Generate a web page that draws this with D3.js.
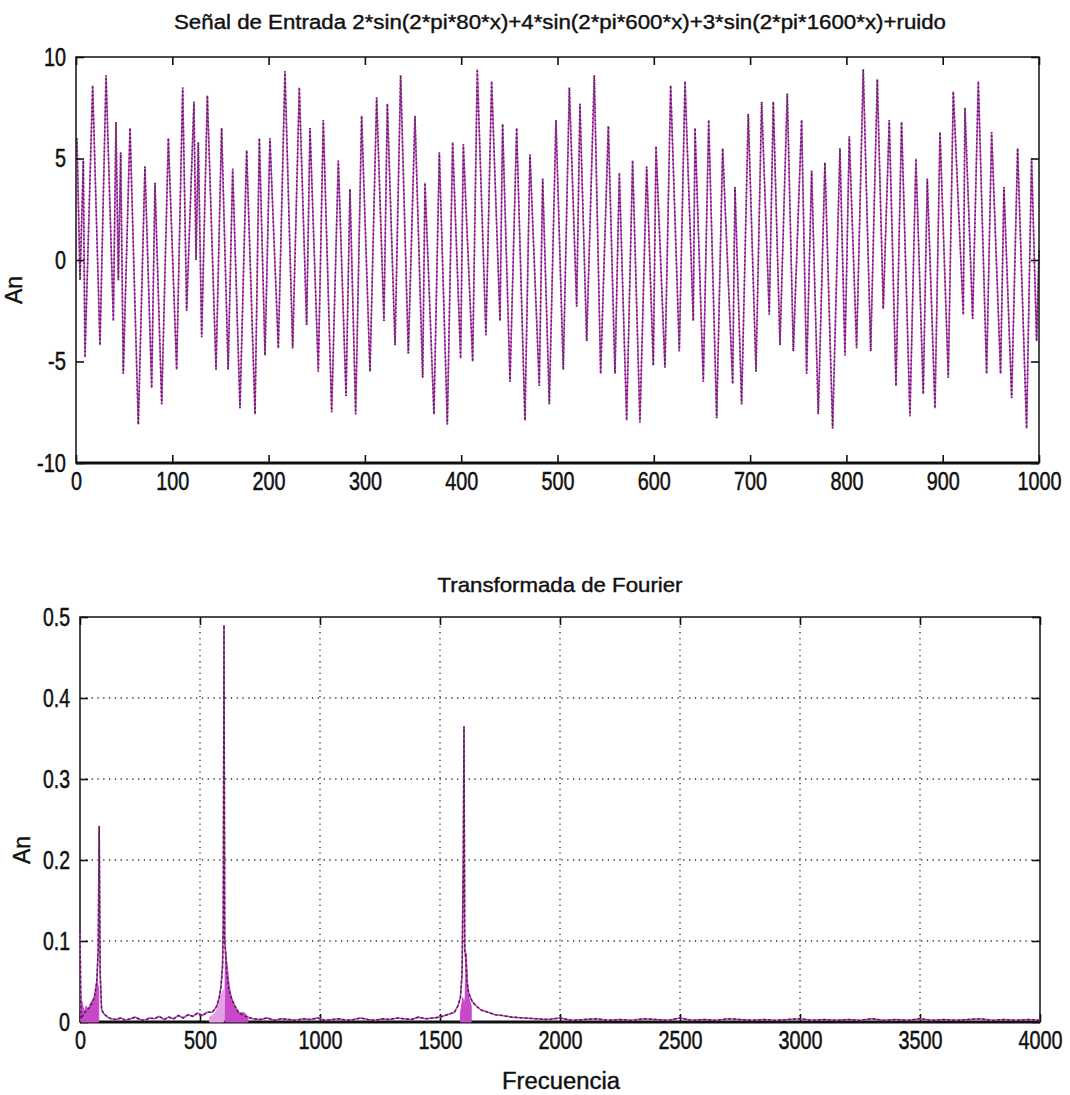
<!DOCTYPE html>
<html>
<head>
<meta charset="utf-8">
<script src="https://cdn.jsdelivr.net/npm/d3@7"></script>
<style>
body { margin: 0; background: #fff; }
text { font-family: "Liberation Sans", Arial, sans-serif; fill: #111; }
</style>
</head>
<body>
<svg id="fig" width="1070" height="1095"></svg>
<script>
/*
----------------------------------------------------------
                   data
----------------------------------------------------------
*/
var signalTitle = "Señal de Entrada 2*sin(2*pi*80*x)+4*sin(2*pi*600*x)+3*sin(2*pi*1600*x)+ruido";
var spectrumTitle = "Transformada de Fourier";

var signalTicksX = [0, 100, 200, 300, 400, 500, 600, 700, 800, 900, 1000];
var signalTicksY = [-10, -5, 0, 5, 10];
var spectrumTicksX = [0, 500, 1000, 1500, 2000, 2500, 3000, 3500, 4000];
var spectrumTicksY = [0, 0.1, 0.2, 0.3, 0.4, 0.5];

// sample position of each peak / trough of the input signal
var sigX = [1, 4.2, 7.6, 9.3, 17.3, 24.9, 31.2, 38.8, 41.5, 44, 46.4, 49.1, 56.1, 64.7, 71.6, 78.6, 82, 89, 95.9, 104.5,
    110.8, 114.9, 122.5, 124.6, 127, 130.5, 136.4, 145.4, 151.2, 158, 162.7, 170.3, 177.2, 185.9, 190.4, 196.3, 201.4, 210.1, 217, 225,
    231.9, 239.5, 243, 251.6,
    256.8, 265.5, 272.4, 280.4, 284.5, 290.4, 296.6, 305.3, 312.2, 319.8, 323.3, 331.3, 337.1, 345.1, 352, 360, 362.4, 371.7, 377.3, 385.6,
    391.1, 399.4, 402.2, 411.9, 416.7, 425.7, 431.6, 440.3, 443, 450.7, 457.6, 466.2, 471.4, 481.1, 484.6, 491.5, 498.4,
    506, 512.3, 519.9, 523.3, 530.3, 538.2, 544.8, 552.8, 559.7, 564.2, 571.8, 578, 585.6, 592.6, 599.5, 602.3, 611.6, 617.5, 626.5, 632.4,
    641, 642.8, 651.4, 657, 665.3, 671.5, 681.9, 684.3, 691.2, 698.1, 706.1, 712, 719.9, 724.1, 731, 738.6,
    744.9, 753.5, 758.7, 763.9, 770.8, 777.7, 785.7, 793.3, 798.5, 803, 810.6, 817.5, 825.2, 832.1, 838.3, 844.5, 851.5, 857.3, 866, 872.2,
    879.8, 884, 892, 897.2, 905.8, 911, 921.4, 923.1, 931.1, 937, 945.6, 950.8, 960.1, 963.6, 971.6, 977.8, 987.1, 992.3, 997.5, 1000];
var sigY = [6.0, -1.0, 4.9, -4.8, 8.6, -4.2, 9.1, -3.0, 6.8, -1.0, 5.3, -5.6, 6.5, -8.1, 4.6, -6.3, 3.8, -7.1, 6.0, -5.4,
    8.5, -2.5, 7.8, 0.0, 5.8, -3.8, 8.1, -5.4, 6.5, -5.4, 4.5, -7.3, 5.4, -7.6, 6.0, -4.7, 6.0, -4.35, 9.3, -4.35,
    8.5, -3.2, 6.5, -5.5,
    6.9, -7.5, 4.9, -6.7, 3.5, -7.6, 7.1, -5.5, 8.0, -3.0, 7.7, -4.2, 9.1, -4.6, 7.1, -5.8, 3.8, -7.6, 5.3, -8.1,
    5.8, -4.85, 5.7, -5.0, 9.4, -3.7, 8.8, -3.0, 6.7, -6.0, 6.5, -7.9, 5.2, -6.2, 4.0, -7.1, 6.9,
    -5.4, 8.5, -2.3, 7.7, -4.0, 9.1, -5.6, 6.6, -5.6, 4.3, -7.9, 4.9, -8.0, 4.6, -5.2, 5.6, -5.3, 8.6, -4.5, 8.8,
    -3.0, 6.5, -6.0, 6.9, -7.8, 5.5, -6.1, 3.6, -7.1, 7.2, -5.5, 7.8, -2.7, 7.8, -4.2, 8.2,
    -4.5, 6.9, -5.6, 4.4, -7.6, 4.8, -8.3, 5.5, -4.7, 6.1, -4.35, 9.4, -4.5, 8.9, -2.4, 6.9, -6.2, 6.8, -7.7, 5.0,
    -6.6, 4.0, -7.3, 6.3, -5.8, 8.3, -2.7, 7.5, -2.9, 8.8, -5.6, 6.3, -5.6, 3.6, -6.8, 5.5, -8.3, 5.0, -4.0, 0.5];

// spectrum |X(f)|
var specF = [0, 4, 20, 40, 60, 70, 76, 80, 84, 90, 100, 115, 130,
    150, 170, 190, 210, 230, 250, 270, 290, 310, 330, 350, 370, 390, 410, 430, 450, 470, 490, 510, 530,
    550, 560, 570, 580, 588, 594, 597, 600, 603, 606, 612, 620, 630, 645, 660, 680, 700, 720,
    750, 780, 810, 840, 870, 900, 930, 960, 990, 1020, 1050, 1080, 1110, 1140, 1170, 1200, 1230, 1260, 1290, 1320,
    1350, 1380, 1410, 1440, 1470,
    1500, 1520, 1540, 1560, 1575, 1585, 1592, 1597, 1600, 1603, 1607, 1612, 1620, 1635, 1650, 1670, 1700, 1730, 1760, 1800,
    1850, 1900, 1950, 2000, 2050, 2100, 2150, 2200, 2250, 2300, 2350, 2400, 2450, 2500, 2550, 2600, 2650, 2700, 2750, 2800,
    2850, 2900, 2950, 3000, 3050, 3100, 3150, 3200, 3250, 3300, 3350, 3400, 3450, 3500, 3550, 3600, 3650, 3700, 3750, 3800,
    3850, 3900, 3950, 4000];
var specA = [0.113, 0.004, 0.012, 0.018, 0.03, 0.05, 0.09, 0.242, 0.06, 0.015, 0.01, 0.006, 0.004,
    0.003, 0.005, 0.002, 0.004, 0.006, 0.003, 0.002, 0.005, 0.004, 0.007, 0.003, 0.006, 0.004, 0.008, 0.005, 0.009, 0.007, 0.011, 0.008, 0.012,
    0.012, 0.015, 0.02, 0.03, 0.045, 0.07, 0.12, 0.49, 0.1, 0.088, 0.06, 0.04, 0.03, 0.02, 0.012, 0.008, 0.006, 0.004,
    0.003, 0.005, 0.002, 0.004, 0.003, 0.002, 0.004, 0.003, 0.005, 0.002, 0.003, 0.004, 0.002, 0.003, 0.005, 0.003, 0.002, 0.004, 0.003, 0.005,
    0.004, 0.003, 0.006, 0.004, 0.005,
    0.006, 0.008, 0.01, 0.012, 0.02, 0.03, 0.06, 0.2, 0.365, 0.09, 0.08, 0.05, 0.035, 0.025, 0.02, 0.015, 0.012, 0.009, 0.008, 0.006,
    0.005, 0.004, 0.003, 0.005, 0.002, 0.003, 0.004, 0.002, 0.003, 0.002, 0.004, 0.003, 0.002, 0.005, 0.002, 0.003, 0.002, 0.004, 0.003, 0.002,
    0.003, 0.002, 0.003, 0.004, 0.002, 0.003, 0.002, 0.003, 0.002, 0.004, 0.002, 0.003, 0.002, 0.004, 0.002, 0.003, 0.002, 0.003, 0.004, 0.002,
    0.003, 0.002, 0.003, 0.002];

// dense magenta bands beside the peaks (upper envelope)
var bandLowF = [4, 10, 18, 26, 34, 42, 50, 58, 66, 72, 78];
var bandLowA = [0.03, 0.022, 0.012, 0.02, 0.015, 0.022, 0.026, 0.03, 0.04, 0.05, 0.04];
var bandMidF = [604, 606, 610, 615, 620, 625, 630, 640, 650, 660, 670, 680, 690, 700];
var bandMidA = [0.02, 0.09, 0.08, 0.065, 0.05, 0.04, 0.032, 0.022, 0.015, 0.012, 0.011, 0.012, 0.01, 0.006];
var bandHighF = [1585, 1590, 1595, 1600, 1605, 1610, 1615, 1620, 1630];
var bandHighA = [0.01, 0.02, 0.03, 0.02, 0.03, 0.085, 0.05, 0.03, 0.02];
var bandPinkF = [540, 560, 570, 580, 590, 598];
var bandPinkA = [0.006, 0.01, 0.015, 0.025, 0.035, 0.04];

/*
----------------------------------------------------------
                   helpers
----------------------------------------------------------
*/
var magenta = "#c848c8";
var dark = "#3a1838";
var svg = d3.select("#fig");

// the scan uses a tall narrow face: squeeze each label to its width in the picture
function narrow(sel, size) {
    sel.attr("font-size", size).attr("stroke", "#111").attr("stroke-width", 0.5)
        .each(function() {
            var s = this.textContent;
            var w = 0;
            for (var i = 0; i < s.length; i++) w += (s[i] === "." ? 5 : (s[i] === "-" ? 7 : 11));
            d3.select(this).attr("textLength", w).attr("lengthAdjust", "spacingAndGlyphs");
        });
}

function Frame(x, y, cfg) {
    var g = svg.append("g");
    var x0 = x.range()[0], x1 = x.range()[1];
    var y0 = y.range()[0], y1 = y.range()[1];

    // grid
    if (cfg.grid) {
        g.selectAll(".gx").data(cfg.ticksX.slice(1, -1)).enter().append("line")
            .attr("x1", function(d) { return x(d); }).attr("x2", function(d) { return x(d); })
            .attr("y1", y0).attr("y2", y1)
            .attr("stroke", "#333").attr("stroke-width", 1.3).attr("stroke-dasharray", "1.3,4.5");
        g.selectAll(".gy").data(cfg.ticksY.slice(1, -1)).enter().append("line")
            .attr("y1", function(d) { return y(d); }).attr("y2", function(d) { return y(d); })
            .attr("x1", x0).attr("x2", x1)
            .attr("stroke", "#333").attr("stroke-width", 1.3).attr("stroke-dasharray", "1.3,4.5");
    }

    var ax = d3.axisBottom(x).tickValues(cfg.ticksX).tickSize(-8).tickPadding(9).tickFormat(String);
    var axTop = d3.axisTop(x).tickValues(cfg.ticksX).tickSize(-8).tickFormat("");
    var ay = d3.axisLeft(y).tickValues(cfg.ticksY).tickSize(-8).tickPadding(10).tickFormat(String);
    var ayR = d3.axisRight(y).tickValues(cfg.ticksY).tickSize(-8).tickFormat("");

    function style(sel) {
        sel.select(".domain").remove();
        sel.selectAll(".tick line").attr("stroke", "#111").attr("stroke-width", 1.6);
        sel.selectAll("text").attr("fill", "#111").call(narrow, 25);
    }
    g.append("g").attr("transform", "translate(0," + y0 + ")").call(ax).call(style);
    g.append("g").attr("transform", "translate(0," + y1 + ")").call(axTop).call(style);
    g.append("g").attr("transform", "translate(" + x0 + ",0)").call(ay).call(style);
    g.append("g").attr("transform", "translate(" + x1 + ",0)").call(ayR).call(style);

    g.append("rect").attr("x", x0).attr("y", y1).attr("width", x1 - x0).attr("height", y0 - y1)
        .attr("fill", "none").attr("stroke", "#111").attr("stroke-width", 1.5);
    g.append("line").attr("x1", x0).attr("x2", x1).attr("y1", y0).attr("y2", y0)
        .attr("stroke", "#111").attr("stroke-width", 2.8);
    return g;
}

function Label(txt, x, y, size, len, rot) {
    var t = svg.append("text").text(txt).attr("text-anchor", "middle").attr("font-size", size)
        .attr("stroke", "#111").attr("stroke-width", 0.4);
    if (len) t.attr("textLength", len).attr("lengthAdjust", "spacingAndGlyphs");
    if (rot) t.attr("transform", "translate(" + x + "," + y + ") rotate(-90)");
    else t.attr("x", x).attr("y", y);
    return t;
}

/*
----------------------------------------------------------
                   top: input signal
----------------------------------------------------------
*/
var sx = d3.scaleLinear().domain([0, 1000]).range([76, 1039]);
var sy = d3.scaleLinear().domain([-10, 10]).range([463, 57]);

var sig = d3.range(sigX.length).map(function(i) { return [sigX[i], sigY[i]]; });
var sigLine = d3.line().x(function(d) { return sx(d[0]); }).y(function(d) { return sy(d[1]); });

svg.append("path").attr("d", sigLine(sig)).attr("fill", "none")
    .attr("stroke", magenta).attr("stroke-width", 1.5);
svg.append("path").attr("d", sigLine(sig)).attr("fill", "none")
    .attr("stroke", dark).attr("stroke-width", 1.8).attr("stroke-dasharray", "1.5,2.5").attr("opacity", 0.8);

Frame(sx, sy, { ticksX: signalTicksX, ticksY: signalTicksY, grid: false });
Label(signalTitle, 560, 29, 20, 772);
Label("An", 22, 290, 23, 0, true);

/*
----------------------------------------------------------
                   bottom: spectrum
----------------------------------------------------------
*/
var fx = d3.scaleLinear().domain([0, 4000]).range([80, 1040]);
var fy = d3.scaleLinear().domain([0, 0.5]).range([1022, 617]);

Frame(fx, fy, { ticksX: spectrumTicksX, ticksY: spectrumTicksY, grid: true });

function band(F, A, color) {
    var pts = d3.range(F.length).map(function(i) { return [F[i], A[i]]; });
    var area = d3.area().x(function(d) { return fx(d[0]); }).y0(fy(0)).y1(function(d) { return fy(d[1]); });
    svg.append("path").attr("d", area(pts)).attr("fill", color).attr("stroke", color).attr("stroke-width", 1);
}
band(bandPinkF, bandPinkA, "#e4a0e4");
band(bandLowF, bandLowA, magenta);
band(bandMidF, bandMidA, magenta);
band(bandHighF, bandHighA, magenta);

var spec = d3.range(specF.length).map(function(i) { return [specF[i], specA[i]]; });
var specLine = d3.line().x(function(d) { return fx(d[0]); }).y(function(d) { return fy(d[1]); });
svg.append("path").attr("d", specLine(spec)).attr("fill", "none")
    .attr("stroke", magenta).attr("stroke-width", 1.6);
svg.append("path").attr("d", specLine(spec)).attr("fill", "none")
    .attr("stroke", dark).attr("stroke-width", 1.5).attr("stroke-dasharray", "3,2").attr("opacity", 0.85);

Label(spectrumTitle, 560, 592, 21, 245);
Label("An", 30, 850, 23, 0, true);
Label("Frecuencia", 561, 1089, 23, 118);
</script>
</body>
</html>
